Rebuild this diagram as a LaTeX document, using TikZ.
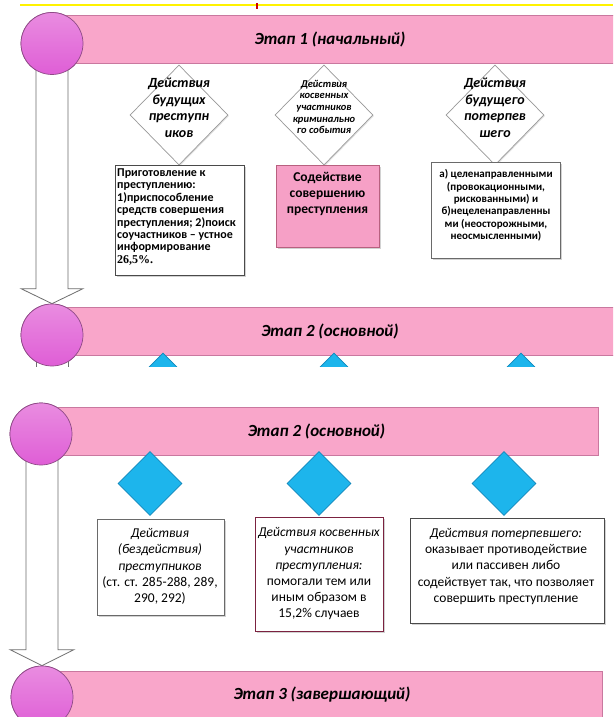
\documentclass[tikz,border=0pt]{standalone}
\usepackage{fontspec}
\setmainfont{Carlito}
\newfontfamily\serifbf{Liberation Serif}
\usetikzlibrary{shapes.geometric,shadows,calc}
\newcommand\fsz[2]{\fontsize{#1pt}{#2pt}\selectfont}
\definecolor{barfill}{HTML}{F9A6CA}
\definecolor{bardraw}{HTML}{C9789F}
\definecolor{circtop}{HTML}{E98CE0}
\definecolor{circbot}{HTML}{DF5ED6}
\definecolor{circdraw}{HTML}{8E4A86}
\definecolor{bluefill}{HTML}{1DB5EC}
\definecolor{bluedraw}{HTML}{1288BB}
\definecolor{boxdraw}{HTML}{4A4A4A}
\definecolor{boxdrawlight}{HTML}{6A6A6A}
\definecolor{maroonbd}{HTML}{7B2240}
\definecolor{pinkbox}{HTML}{F6A0C6}
\definecolor{pinkboxdraw}{HTML}{B8607F}
\definecolor{arrowdraw}{HTML}{6E6E6E}
\definecolor{hiyellow}{HTML}{FFF200}
\begin{document}
\begin{tikzpicture}[x=1pt,y=-1pt,
  bar/.style={rectangle, draw=bardraw, fill=barfill, line width=0.6pt, minimum height=48pt, inner sep=0pt, font=\fsz{17}{20}\bfseries\itshape},
  stagecirc/.style={circle, draw=circdraw, line width=0.7pt, top color=circtop, bottom color=circbot, minimum size=62pt, inner sep=0pt},
  bluediam/.style={diamond, draw=bluedraw, fill=bluefill, line width=0.6pt, minimum width=64pt, minimum height=64pt, inner sep=0pt},
  whitediam/.style={diamond, draw=gray!80, fill=white, line width=0.7pt, minimum width=98pt, minimum height=100pt, inner sep=0pt, drop shadow={shadow xshift=1pt, shadow yshift=-1pt, opacity=0.25}},
  dtext/.style={align=center, inner sep=0pt, font=\fsz{14}{16.5}\bfseries\itshape},
  dtextsmall/.style={align=center, inner sep=0pt, font=\fsz{10.5}{11.7}\bfseries\itshape},
  infobox/.style={rectangle, draw=boxdraw, fill=white, line width=0.8pt, inner sep=0pt, drop shadow={shadow xshift=2pt, shadow yshift=-2pt, opacity=0.35}},
  topboxtext/.style={inner sep=0pt, font=\fsz{11}{12.4}\bfseries},
  bottext/.style={align=center, inner sep=0pt, font=\fsz{13.5}{16.2}},
  blockarrow/.style={draw=arrowdraw, fill=white, line width=0.8pt, line join=miter}
]
\useasboundingbox (0,0) rectangle (613,717);
\fill[white] (0,0) rectangle (613,717);

% top fragment: highlighted line of a cut text
\draw[hiyellow, line width=2.5pt] (20,5) -- (613,5);
\fill[red!80!black] (255.5,3) rectangle (257.5,9);

% ---------- upper screenshot ----------
\node[stagecirc] (c1) at (52,43.5) {};
\node[stagecirc] (c2) at (52,335) {};
% arrow c1 -> c2
\draw[blockarrow] ($(c1.center)+(-16,0)$) -- ($(c2.north)+(-16,-15)$) -- ($(c2.north)+(-31,-15)$) -- (c2.north) -- ($(c2.north)+(31,-15)$) -- ($(c2.north)+(16,-15)$) -- ($(c1.center)+(16,0)$);

\begin{scope}
\clip (0,0) rectangle (613,366.5);
\draw[blockarrow] ($(c2.center)+(-16,0)$) -- ($(c2.center)+(-16,50)$) -- ($(c2.center)+(16,50)$) -- ($(c2.center)+(16,0)$);
\node[bar, minimum width=570pt] (b1) at (330,39) {Этап 1 (начальный)};
\node[bar, minimum width=570pt] (b2) at (330,331.5) {Этап 2 (основной)};
\node[bluediam] (t1) at (163,385) {};
\node[bluediam] (t2) at (334,385) {};
\node[bluediam] (t3) at (521,385) {};
\node[stagecirc] at (c1) {};
\node[stagecirc] at (c2) {};
\end{scope}

% diamonds of stage 1
\node[whitediam] (d1) at (179,115) {};
\node[whitediam] (d2) at (324,115) {};
\node[whitediam] (d3) at (495,115) {};
\node[dtext] (d1t) at (179,108) {Действия\\будущих\\преступн\\иков};
\node[dtextsmall] (d2t) at (324,107) {Действия\\косвенных\\участников\\криминально\\го события};
\node[dtext] (d3t) at (495,108) {Действия\\будущего\\потерпев\\шего};

% boxes of stage 1
\node[infobox, minimum width=129pt, minimum height=110pt] (bx1) at (179.5,220) {};
\node[topboxtext, font=\fsz{12}{12.4}\bfseries, anchor=west, align=left] (tx1) at (117,217) {Приготовление к\\преступлению:\\1)приспособление\\средств совершения\\преступления; 2)поиск\\соучастников – устное\\информирование\\{\serifbf\bfseries 26,5\%.}};
\node[infobox, draw=pinkboxdraw, fill=pinkbox, minimum width=103pt, minimum height=82pt] (bx2) at (327.5,206) {};
\node[align=center, inner sep=0pt, font=\fsz{13.5}{15.8}\bfseries] (tx2) at (327.5,194) {Содействие\\совершению\\преступления};
\node[infobox, draw=boxdrawlight, minimum width=129pt, minimum height=96pt] (bx3) at (495.5,210) {};
\node[topboxtext, align=center] (tx3) at (496,205.5) {а) целенаправленными\\(провокационными,\\рискованными) и\\б)нецеленаправленны\\ми (неосторожными,\\неосмысленными)};

% ---------- lower screenshot ----------
\node[stagecirc] (c3) at (41,434) {};
\node[stagecirc] (c4) at (42,697) {};
\draw[blockarrow] ($(c3.center)+(-15,0)$) -- ($(c4.north)+(-16,-16)$) -- ($(c4.north)+(-32,-16)$) -- (c4.north) -- ($(c4.north)+(32,-16)$) -- ($(c4.north)+(16,-16)$) -- ($(c3.center)+(17,0)$);
\node[bar, minimum width=563pt] (b3) at (316.5,431) {Этап 2 (основной)};
\node[bar, minimum width=560pt] (b4) at (322,695) {Этап 3 (завершающий)};
\node[stagecirc] at (c3) {};
\node[stagecirc] at (c4) {};

\node[bluediam] (e1) at (150,483.5) {};
\node[bluediam] (e2) at (319,483.5) {};
\node[bluediam] (e3) at (504,483.5) {};

\node[infobox, draw=boxdrawlight, minimum width=127pt, minimum height=96pt] (bb1) at (160.5,567) {};
\node[bottext] (bt1) at (160,566.5) {\textit{Действия}\\\textit{(бездействия)}\\\textit{преступников}\\(ст. ст. 285-288, 289,\\290, 292)};
\node[infobox, draw=maroonbd, line width=1pt, minimum width=128pt, minimum height=114pt] (bb2) at (319,574) {};
\node[bottext] (bt2) at (319,574) {\textit{Действия косвенных}\\\textit{участников}\\\textit{преступления:}\\помогали тем или\\иным образом в\\15,2\% случаев};
\node[infobox, draw=boxdraw, minimum width=194pt, minimum height=105pt] (bb3) at (507,570.5) {};
\node[bottext] (bt3) at (506,566.5) {\textit{Действия потерпевшего:}\\оказывает противодействие\\или пассивен либо\\содействует так, что позволяет\\совершить преступление};
\end{tikzpicture}
\end{document}
